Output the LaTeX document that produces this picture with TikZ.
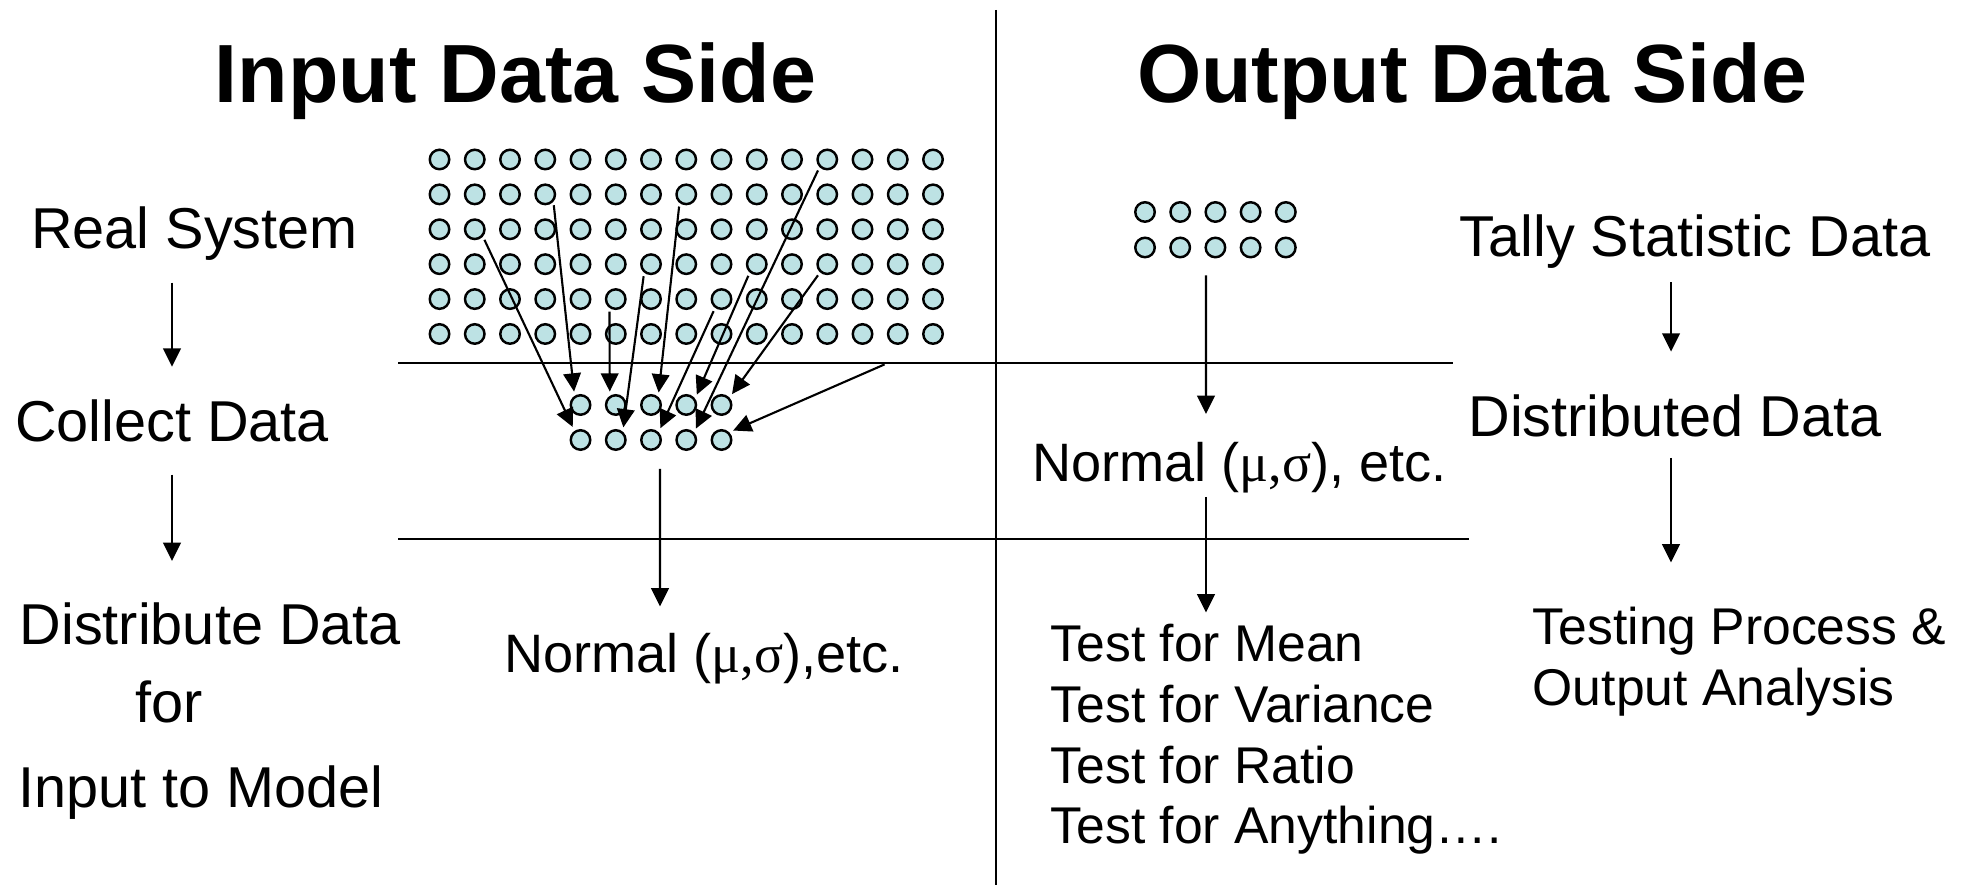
\documentclass[tikz,border=0pt]{standalone}
\usepackage{fontspec}
\setmainfont{Liberation Sans}
\newfontfamily\greekfont{Liberation Serif}
\usetikzlibrary{arrows.meta, calc}
\definecolor{dotfill}{RGB}{189,226,228}

\begin{document}
\begin{tikzpicture}[
dot/.style={circle, draw=black, line width=0.7pt, fill=dotfill, minimum size=0.195cm, inner sep=0pt},
txt/.style={inner sep=0pt, font=\fontsize{16.4}{17.4}\selectfont},
small/.style={inner sep=0pt, font=\fontsize{14.7}{17.3}\selectfont},
norm/.style={inner sep=0pt, font=\fontsize{15.4}{18}\selectfont},
head/.style={inner sep=0pt, font=\fontsize{23.5}{28}\selectfont\bfseries},
line/.style={-{Triangle[length=5.2pt, width=5pt]}, line width=0.6pt},
feed/.style={line, shorten <=1pt, shorten >=1.2pt},
rule/.style={line width=0.8pt}
]
\useasboundingbox (0,0) rectangle (19.69,-8.87);

% titles
\node[head, anchor=base] (inhead) at (5.155,-1.03) {Input Data Side};
\node[head, anchor=base] (outhead) at (14.72,-1.03) {Output Data Side};

% dividing rules
\draw[rule] (9.96,-0.10) -- (9.96,-8.85);
\draw[rule] (3.98,-3.63) -- (14.53,-3.63);
\draw[rule] (3.98,-5.39) -- (14.69,-5.39);
\coordinate (cut) at (8.878,-3.63);

% data points
\foreach \r in {0,...,5}
  \foreach \c in {0,...,14}
    \node[dot] (b-\r-\c) at ({4.395+0.3525*\c},{-1.595-0.349*\r}) {};
\foreach \r in {0,1}
  \foreach \c in {0,...,4} {
    \node[dot] (s-\r-\c) at ({5.805+0.3525*\c},{-4.05-0.35*\r}) {};
    \node[dot] (t-\r-\c) at ({11.45+0.352*\c},{-2.12-0.355*\r}) {};
  }

% left column
\node[txt, anchor=base] (real) at (1.946,-2.486) {Real System};
\node[txt, anchor=base] (collect) at (1.72,-4.42) {Collect Data};
\node[txt, anchor=base] (distrib) at (2.103,-6.44) {Distribute Data};
\node[txt, anchor=base] (for) at (1.695,-7.23) {for};
\node[txt, anchor=base] (model) at (2.01,-8.07) {Input to Model};

% input side
\node[norm, anchor=base] (normin) at (7.04,-6.72) {Normal ({\greekfont μ,σ}),etc.};

% output side
\node[norm, anchor=base] (normout) at (12.394,-4.82) {Normal ({\greekfont μ,σ}), etc.};
\node[small, anchor=north west, align=left] (tests) at (10.50,-6.235) {Test for Mean\\Test for Variance\\Test for Ratio\\Test for Anything….};

% right column
\node[txt, anchor=base] (tally) at (16.95,-2.57) {Tally Statistic Data};
\node[txt, anchor=base] (distd) at (16.75,-4.37) {Distributed Data};
\node[small, anchor=north west, align=left] (testing) at (15.32,-6.064) {Testing Process \&\\Output Analysis};

% left column arrows
\draw[line] ($(real.base -| collect.base)+(0,-0.34)$) -- ($(collect.base)+(0,0.753)$);
\draw[line] ($(collect.base)+(0,-0.327)$) -- ($(collect.base)+(0,-1.19)$);

% collecting the data
\draw[feed] (b-2-1.-42) -- (s-1-0.123);
\draw[feed] (b-1-3.-42) -- (s-0-0.123);
\draw[feed] (b-4-5.-125) -- (s-0-1.123);
\draw[feed] (b-3-6.-129) -- (s-1-1.50);
\draw[feed] (b-1-7.-128) -- (s-0-2.49);
\draw[feed] (b-4-8.-126) -- (s-1-2.46);
\draw[feed] (b-3-9.-130) -- (s-0-3.36);
\draw[feed] (b-0-11.-135) -- (s-1-3.44);
\draw[feed] (b-3-11.-131) -- (s-0-4.43);
\draw[feed] (cut) -- (s-1-4.45);

\draw[line] ($(s-1-2.south)+(0.09,-0.18)$) -- ($(normin.base)+(-0.44,0.655)$);

% output arrows
\draw[line] ($(t-1-2.south)+(-0.094,-0.17)$) -- ($(normout.base)+(-0.334,0.68)$);
\draw[line] ($(normout.base)+(-0.334,-0.15)$) coordinate (q) -- ($(q |- tests.north)+(0,0.11)$);

\draw[line] ($(tally.base -| distd.base)+(-0.04,-0.255)$) -- ($(distd.base)+(-0.04,0.854)$);
\draw[line] ($(distd.base)+(-0.04,-0.21)$) -- ($(distd.base)+(-0.04,-1.255)$);
\end{tikzpicture}
\end{document}
